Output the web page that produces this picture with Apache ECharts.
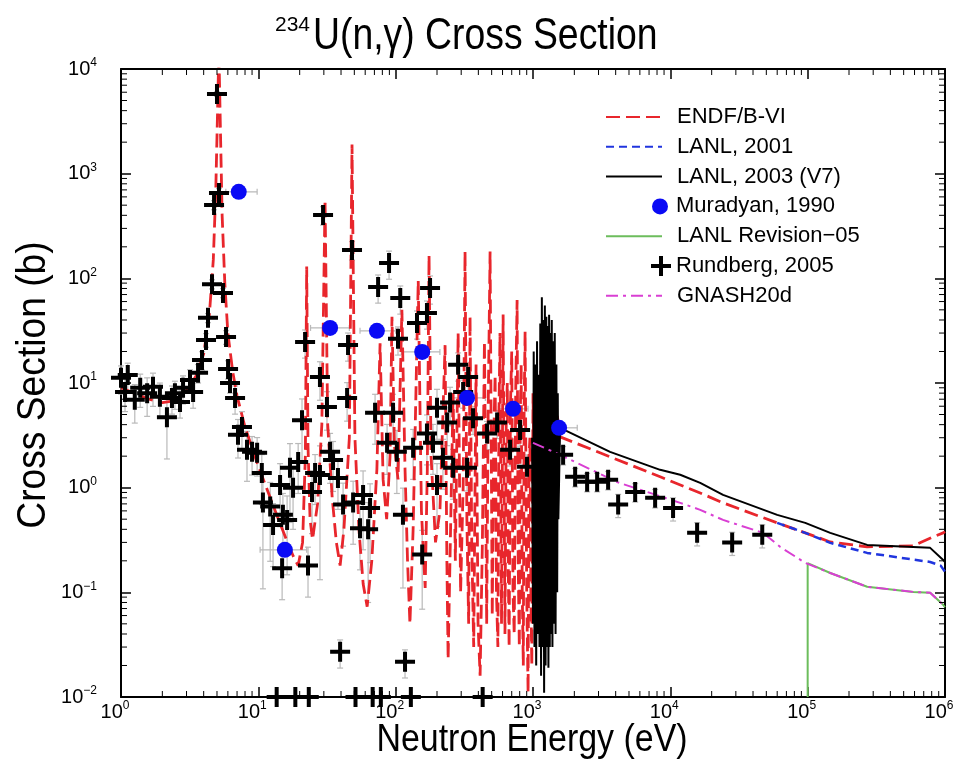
<!DOCTYPE html>
<html>
<head>
<meta charset="utf-8">
<title>234U(n,g) Cross Section</title>
<script src="https://cdn.jsdelivr.net/npm/echarts@6/dist/echarts.min.js"></script>
<style>
  body { margin: 0; padding: 0; background: #fff; }
  #main { width: 965px; height: 762px; }
</style>
</head>
<body>
<div id="main"></div>
<script>
const FONT = '"Liberation Sans", Arial, Helvetica, sans-serif';

// evaluated curves, [energy eV, cross section b]
const endfPoints = [
  [1, 9], [1.3, 7.8], [1.6, 7], [2, 6.5], [2.5, 6.8], [3, 8.5], [3.5, 11.5], [4, 19], [4.4, 45],
  [4.7, 150], [4.9, 700], [5.05, 4000], [5.16, 15000], [5.3, 2500], [5.45, 400], [5.7, 90],
  [6.0, 30], [6.5, 13], [7, 7.5], [8, 3.8], [9, 2.4], [10, 1.6], [12, 0.85], [14, 0.5], [16, 0.32],
  [18, 0.22], [19.5, 0.18], [21, 0.3], [22, 2], [22.5, 130], [23, 2.5], [23.8, 0.5], [24.8, 0.32],
  [27, 0.7], [29, 4], [30.6, 560], [32, 4], [34.5, 0.8], [37, 0.3], [39.4, 0.18], [42, 0.4], [46, 3],
  [48.1, 1900], [50.5, 3], [54, 0.4], [58, 0.12], [62, 0.073], [67, 0.2], [73, 1.5], [77, 24],
  [81, 1.2], [86, 0.5], [91, 2], [94, 43], [98, 2.5], [104, 1.2], [111, 50], [117, 1.5], [122, 0.2],
  [127, 0.05], [134, 0.4], [146, 95], [154, 0.6], [164, 0.11], [170, 1.5], [175, 165], [181, 2],
  [195, 0.3], [210, 0.6], [229, 23], [236, 0.2], [241, 0.023], [250, 0.3], [262, 8], [272, 0.2],
  [285, 30], [297, 0.1], [310, 1], [320, 180], [330, 0.5], [340, 0.05], [348, 43], [358, 0.3],
  [370, 0.03], [385, 15], [398, 0.05], [412, 0.016], [428, 0.3], [443, 25], [460, 0.05], [472, 6],
  [487, 180], [505, 0.06], [518, 3], [530, 12], [542, 0.1], [555, 0.03], [565, 5], [575, 30],
  [590, 0.05], [606, 45], [625, 0.04], [638, 4], [650, 10], [660, 0.2], [670, 0.03], [685, 6],
  [700, 20], [715, 0.1], [730, 0.04], [748, 8], [766, 62], [780, 0.2], [795, 0.03], [808, 5],
  [820, 15], [835, 0.1], [850, 0.02], [862, 6], [876, 31], [900, 0.1], [921, 0.011], [935, 2],
  [950, 3], [965, 0.1], [980, 0.02], [1000, 8], [1050, 0.05], [1150, 20], [1250, 0.05], [1400, 10],
  [1575, 3.06], [3640, 1.97], [8430, 1.27], [16500, 0.89], [24200, 0.716], [60000, 0.461],
  [96000, 0.37], [146000, 0.303], [271000, 0.272], [587000, 0.278], [820000, 0.339], [970000, 0.37],
  [1000000, 0.38]
];
const lanl2001Points = [
  [60000, 0.461], [96000, 0.37], [146000, 0.297], [271000, 0.238], [780000, 0.195], [930000, 0.18],
  [1000000, 0.157]
];
const lanl2003Points = [
  [985, 3], [1000, 0.05], [1012, 20], [1025, 0.03], [1040, 15], [1055, 0.02], [1070, 25], [1085, 0.04],
  [1100, 12], [1115, 0.03], [1130, 37], [1145, 0.016], [1160, 66], [1175, 0.03], [1190, 40],
  [1205, 0.011], [1220, 55], [1235, 0.02], [1250, 43], [1265, 0.03], [1280, 35], [1295, 0.019],
  [1310, 45], [1325, 0.03], [1340, 30], [1355, 0.04], [1370, 40], [1385, 0.03], [1400, 25],
  [1420, 0.05], [1440, 30], [1460, 0.04], [1480, 15], [1500, 0.1], [1515, 8], [1530, 0.5],
  [1575, 3.72], [3640, 2.2], [8430, 1.48], [11800, 1.33], [16500, 1.11], [24200, 0.853],
  [60000, 0.55], [96000, 0.461], [146000, 0.37], [271000, 0.284], [780000, 0.266], [970000, 0.204],
  [1000000, 0.195]
];
const revision05Points = [
  [100000, 0.01], [100000, 0.19], [146000, 0.153], [271000, 0.113], [587000, 0.101],
  [780000, 0.099], [970000, 0.076], [1000000, 0.072]
];
const gnashPoints = [
  [1000, 2.68], [1575, 2.06], [4100, 1.13], [11800, 0.716], [16500, 0.614], [24200, 0.492],
  [47400, 0.37], [63000, 0.272], [96000, 0.191], [146000, 0.153], [271000, 0.113], [587000, 0.101],
  [780000, 0.099], [970000, 0.076], [1000000, 0.072]
];

// Muradyan, 1990
const muradyanE = [7.2, 15.6, 33.3, 73, 156, 331, 716, 1549];
const muradyanXS = [670, 0.255, 33.6, 31.5, 19.8, 7.2, 5.66, 3.73];
const muradyanElo = [5.8, 10.3, 24, 55, 110, 250, 560, 1300];
const muradyanEhi = [9.8, 22.5, 46, 100, 210, 450, 920, 2100];

// Rundberg, 2005
const rundbergE = [
  1.0, 1.07, 1.12, 1.26, 1.38, 1.55, 1.71, 1.92, 2.16, 2.35,
  2.47, 2.69, 2.83, 3.18, 3.35, 3.64, 3.89, 4.16, 4.3, 4.6,
  4.76, 5.0, 5.17, 5.53, 5.82, 6.02, 6.22, 6.77, 7.11, 7.6,
  8.27, 9.0, 9.8, 10.6, 10.8, 12.2, 12.8, 14.4, 14.9, 15.1,
  16.2, 17.0, 17.9, 19.5, 20.8, 21.9, 23.0, 24.6, 25.9, 28.1,
  28.1, 29.6, 31.6, 33.3, 35.0, 38.0, 39.4, 41.4, 44.3, 45,
  48.1, 49, 55, 57.9, 63, 65.1, 70.8, 74.5, 86.6, 89.5,
  95.7, 102, 104, 108, 113, 117, 134, 143, 156, 169,
  169, 178, 187, 200, 200, 221, 237, 249, 262, 285,
  310, 331, 337, 366, 463, 548, 681, 805, 905, 1657,
  2027, 2478, 2931, 3524, 4169, 5546, 7750, 10470, 15670, 28200,
  46700,
  13.6, 18.6, 23.3, 51, 68, 78, 129, 430
];
const rundbergXS = [
  11.2, 8.2, 11.9, 6.9, 9.0, 8.0, 9.2, 7.4, 4.7, 7.2,
  8.0, 6.6, 9.0, 10.7, 8.2, 12.5, 16.6, 25.8, 41.9, 88,
  502, 5770, 654, 72.6, 27.5, 13.6, 10.0, 7.2, 3.2, 3.8,
  2.3, 2.2, 2.15, 1.38, 0.72, 0.66, 0.44, 1.06, 0.17, 0.55,
  0.49, 1.55, 1.0, 1.76, 4.4, 24.7, 0.18, 0.91, 1.38, 1.32,
  11.4, 403, 5.9, 2.2, 1.84, 1.24, 0.027, 0.69, 7.2, 23.1,
  187, 0.72, 0.41, 0.85, 0.40, 0.64, 5.2, 82.8, 2.68, 140,
  5.2, 2.2, 26.4, 65, 0.55, 0.0217, 2.4, 37.5, 0.23, 46.7,
  3.3, 81, 2.68, 5.8, 1.06, 1.93, 4.2, 6.5, 1.55, 14.9,
  8.2, 1.55, 11.4, 4.6, 3.3, 4.2, 2.3, 3.56, 1.58, 2.06,
  1.27, 1.14, 1.14, 1.19, 0.69, 0.91, 0.80, 0.64, 0.37, 0.30,
  0.354,
  0.01, 0.01, 0.01, 0.01, 0.01, 0.01, 0.01, 0.01
];
// relative size of the gray error bars
const rundbergRelErr = [
  0.3, 0.35, 0.3, 0.4, 0.35, 0.4, 0.35, 0.35, 0.6, 0.3,
  0.3, 0.3, 0.3, 0.25, 0.3, 0.2, 0.2, 0.15, 0.1, 0.1,
  0.1, 0.05, 0.1, 0.1, 0.15, 0.2, 0.2, 0.3, 0.4, 0.4,
  0.5, 0.4, 0.4, 0.5, 0.85, 0.7, 0.6, 0.6, 0.5, 0.6,
  0.7, 0.7, 0.6, 0.5, 0.6, 0.3, 0.5, 0.6, 0.5, 0.9,
  0.4, 0.2, 0.4, 0.5, 0.5, 0.5, 0.3, 0.6, 0.4, 0.3,
  0.2, 0.6, 0.6, 0.7, 0.8, 0.7, 0.5, 0.3, 0.5, 0.3,
  0.5, 0.6, 0.3, 0.3, 0.8, 0.3, 0.5, 0.3, 0.7, 0.3,
  0.5, 0.3, 0.5, 0.5, 0.6, 0.5, 0.4, 0.4, 0.5, 0.3,
  0.3, 0.4, 0.3, 0.3, 0.3, 0.3, 0.3, 0.3, 0.3, 0.2,
  0.2, 0.2, 0.2, 0.2, 0.25, 0.2, 0.2, 0.25, 0.25, 0.25,
  0.25,
  0, 0, 0, 0, 0, 0, 0, 0
];

// axis ticks
const xDecades = [1, 10, 100, 1000, 10000, 100000];
const yDecades = [0.01, 0.1, 1, 10, 100, 1000];
const minorMultipliers = [2, 3, 4, 5, 6, 7, 8, 9];

const legendNames = ['ENDF/B-VI', 'LANL, 2001', 'LANL, 2003 (V7)', 'Muradyan, 1990',
  'LANL Revision\u221205', 'Rundberg, 2005', 'GNASH20d'];

const CROSS = 'path://M8,0H12V8H20V12H12V20H8V12H0V8H8Z';

const minorX = [];
xDecades.forEach(d => minorMultipliers.forEach(m => minorX.push([d * m, 1])));
const minorY = [];
yDecades.forEach(d => minorMultipliers.forEach(m => minorY.push([10, d * m])));

const rundbergData = rundbergE.map((e, i) => [e, rundbergXS[i]]);
const rundbergErrData = [];
rundbergE.forEach((e, i) => {
  const f = rundbergRelErr[i];
  if (f > 0) {
    rundbergErrData.push([e, Math.max(0.01, rundbergXS[i] * (1 - f)), rundbergXS[i] * (1 + f)]);
  }
});
const muradyanData = muradyanE.map((e, i) => [e, muradyanXS[i]]);
const muradyanErrData = muradyanE.map((e, i) => [e, muradyanXS[i], muradyanElo[i], muradyanEhi[i]]);

const pow10 = v => {
  const e = Math.round(Math.log10(v));
  return '{b|10}{s|' + (e < 0 ? '\u2212' + (-e) : e) + '}';
};
const labelRich = {
  b: { fontSize: 20, fontFamily: FONT, color: '#000', lineHeight: 24 },
  s: { fontSize: 12, fontFamily: FONT, color: '#000', verticalAlign: 'top', lineHeight: 12 }
};
const tickStyle = { inside: true, length: 10, lineStyle: { color: '#000', width: 1.5 } };
const lineAxis = { show: true, lineStyle: { color: '#000', width: 2 } };

const minorTicks = (data, vertical) => ({
  type: 'custom',
  silent: true,
  z: 10,
  data: data,
  encode: { x: 0, y: 1 },
  renderItem: (params, api) => {
    const cs = params.coordSys;
    const p = api.coord([api.value(0), api.value(1)]);
    const st = { stroke: '#000', lineWidth: 1 };
    if (vertical) {
      return { type: 'group', children: [
        { type: 'line', shape: { x1: p[0], y1: cs.y + cs.height, x2: p[0], y2: cs.y + cs.height - 6 }, style: st },
        { type: 'line', shape: { x1: p[0], y1: cs.y, x2: p[0], y2: cs.y + 6 }, style: st }
      ] };
    }
    return { type: 'group', children: [
      { type: 'line', shape: { x1: cs.x, y1: p[1], x2: cs.x + 6, y2: p[1] }, style: st },
      { type: 'line', shape: { x1: cs.x + cs.width, y1: p[1], x2: cs.x + cs.width - 6, y2: p[1] }, style: st }
    ] };
  }
});

const lineSeries = (name, data, color, type, width, z) => ({
  name: name,
  type: 'line',
  data: data,
  symbol: 'none',
  showSymbol: false,
  z: z,
  itemStyle: { color: color },
  lineStyle: { color: color, width: width, type: type }
});

const legendLayout = [
  { left: 605, w: 56, h: 14, pad: 10, line: true },
  { left: 605, w: 56, h: 14, pad: 10, line: true },
  { left: 605, w: 56, h: 14, pad: 10, line: true },
  { left: 652, w: 16, h: 16, pad: 3, line: false },
  { left: 605, w: 56, h: 14, pad: 10, line: true },
  { left: 651, w: 20, h: 20, pad: 0, line: false },
  { left: 605, w: 56, h: 14, pad: 10, line: true }
];

const chart = echarts.init(document.getElementById('main'), null, { renderer: 'canvas' });
chart.setOption({
  animation: false,
  backgroundColor: '#fff',
  // title and axis titles use a narrow face in the original, so the text is squeezed sideways
  graphic: {
    elements: [
      { type: 'text', x: 275, y: 15, silent: true,
        style: { text: '234', fontSize: 21, fontFamily: FONT, fill: '#000', align: 'left', verticalAlign: 'top' } },
      { type: 'text', x: 313, y: 14, scaleX: 0.83, silent: true,
        style: { text: 'U(n,\u03b3) Cross Section', fontSize: 45, fontFamily: FONT, fill: '#000', align: 'left', verticalAlign: 'top' } },
      { type: 'text', x: 532, y: 721, scaleX: 0.87, silent: true,
        style: { text: 'Neutron Energy (eV)', fontSize: 39, fontFamily: FONT, fill: '#000', align: 'center', verticalAlign: 'top' } },
      { type: 'text', x: 34, y: 385, rotation: Math.PI / 2, scaleX: 0.93, silent: true,
        style: { text: 'Cross Section (b)', fontSize: 40, fontFamily: FONT, fill: '#000', align: 'center', verticalAlign: 'middle' } }
    ]
  },
  legend: legendNames.map((n, i) => ({
    data: n === 'Rundberg, 2005' ? [{ name: n, icon: CROSS }] : [n],
    orient: 'vertical',
    left: legendLayout[i].left,
    top: 118 + i * 29.8 - 12,
    padding: 0,
    itemWidth: legendLayout[i].w,
    itemHeight: legendLayout[i].h,
    selectedMode: false,
    itemStyle: legendLayout[i].line ? { opacity: 0 } : {},
    textStyle: { fontSize: 22, fontFamily: FONT, color: '#000', padding: [0, 0, 0, legendLayout[i].pad] }
  })),
  grid: { left: 121, right: 20, top: 69, bottom: 65, show: false, outerBoundsMode: 'none', containLabel: false },
  xAxis: [{
    type: 'log', logBase: 10, min: 1, max: 1e6, splitNumber: 6,
    axisLine: lineAxis, axisTick: tickStyle, splitLine: { show: false },
    axisLabel: { formatter: pow10, rich: labelRich, margin: 3, padding: [0, 12, 0, 0] }
  }, {
    type: 'log', logBase: 10, min: 1, max: 1e6, splitNumber: 6, position: 'top',
    axisLine: lineAxis, axisTick: tickStyle, splitLine: { show: false }, axisLabel: { show: false }
  }],
  yAxis: [{
    type: 'log', logBase: 10, min: 0.01, max: 1e4, splitNumber: 6,
    axisLine: lineAxis, axisTick: tickStyle, splitLine: { show: false },
    axisLabel: { formatter: pow10, rich: labelRich, margin: 24 }
  }, {
    type: 'log', logBase: 10, min: 0.01, max: 1e4, splitNumber: 6, position: 'right',
    axisLine: lineAxis, axisTick: tickStyle, splitLine: { show: false }, axisLabel: { show: false }
  }],
  series: [
    minorTicks(minorX, true),
    minorTicks(minorY, false),
    {
      type: 'custom', silent: true, z: 1, data: rundbergErrData, encode: { x: 0, y: [1, 2] },
      renderItem: (params, api) => {
        const a = api.coord([api.value(0), api.value(1)]);
        const b = api.coord([api.value(0), api.value(2)]);
        const st = { stroke: '#b9b9b9', lineWidth: 1.2 };
        return { type: 'group', children: [
          { type: 'line', shape: { x1: a[0], y1: a[1], x2: b[0], y2: b[1] }, style: st },
          { type: 'line', shape: { x1: a[0] - 3, y1: a[1], x2: a[0] + 3, y2: a[1] }, style: st },
          { type: 'line', shape: { x1: b[0] - 3, y1: b[1], x2: b[0] + 3, y2: b[1] }, style: st }
        ] };
      }
    },
    {
      type: 'custom', silent: true, z: 1, data: muradyanErrData, encode: { x: [0, 2, 3], y: 1 },
      renderItem: (params, api) => {
        const a = api.coord([api.value(2), api.value(1)]);
        const b = api.coord([api.value(3), api.value(1)]);
        const st = { stroke: '#b9b9b9', lineWidth: 1.2 };
        return { type: 'group', children: [
          { type: 'line', shape: { x1: a[0], y1: a[1], x2: b[0], y2: b[1] }, style: st },
          { type: 'line', shape: { x1: a[0], y1: a[1] - 3, x2: a[0], y2: a[1] + 3 }, style: st },
          { type: 'line', shape: { x1: b[0], y1: b[1] - 3, x2: b[0], y2: b[1] + 3 }, style: st }
        ] };
      }
    },
    lineSeries('ENDF/B-VI', endfPoints, '#e8262c', [14, 6], 2.8, 2),
    lineSeries('LANL, 2001', lanl2001Points, '#2035de', [8, 5], 2.5, 2),
    lineSeries('LANL, 2003 (V7)', lanl2003Points, '#000000', 'solid', 2, 3),
    lineSeries('LANL Revision\u221205', revision05Points, '#6cbd5c', 'solid', 2, 3),
    lineSeries('GNASH20d', gnashPoints, '#d93fd3', [12, 5, 3, 5], 2, 4),
    {
      name: 'Rundberg, 2005', type: 'scatter', data: rundbergData, symbol: CROSS, symbolSize: 20,
      clip: false, z: 5, itemStyle: { color: '#000', opacity: 1 }
    },
    {
      name: 'Muradyan, 1990', type: 'scatter', data: muradyanData, symbol: 'circle', symbolSize: 16,
      clip: false, z: 6, itemStyle: { color: '#0a0af5', opacity: 1 }
    }
  ]
});
window.addEventListener('resize', function () {
  chart.resize();
});
</script>
</body>
</html>
